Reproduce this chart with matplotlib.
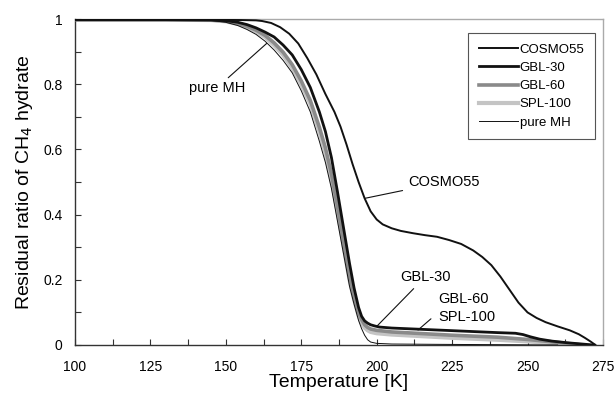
import matplotlib
matplotlib.use("Agg")
import matplotlib.pyplot as plt
from matplotlib.ticker import MultipleLocator, FuncFormatter

plt.rcParams['font.family'] = ['Liberation Sans', 'DejaVu Sans']

# ---- data ----
cosmo_T = [100, 120, 140, 155, 160, 162, 165, 168, 171, 174, 177, 180, 183, 186, 188, 190, 192,
           194, 196, 198, 200, 202, 205, 208, 212, 216, 220, 224, 228, 232, 235, 238, 241, 244,
           247, 250, 253, 256, 260, 264, 267, 269, 271, 272.5]
cosmo_r = [0.998, 0.998, 0.998, 0.997, 0.996, 0.994, 0.988, 0.975, 0.955, 0.925, 0.88, 0.83,
           0.77, 0.715, 0.67, 0.615, 0.555, 0.5, 0.45, 0.41, 0.385, 0.37, 0.358, 0.35, 0.343,
           0.337, 0.332, 0.322, 0.31, 0.29, 0.27, 0.245, 0.21, 0.17, 0.13, 0.10, 0.083, 0.07,
           0.057, 0.045, 0.033, 0.022, 0.01, 0.0]

gbl30_T = [100, 130, 145, 150, 154, 157, 160, 163, 166, 169, 172, 175, 178, 181, 183, 185, 187,
           189, 191, 192.5, 194, 195, 196, 197, 198, 199.5, 201, 205, 210, 220, 230, 240, 246,
           248.5, 251, 254, 258, 263, 268, 272]
gbl30_r = [0.998, 0.998, 0.997, 0.995, 0.99, 0.983, 0.973, 0.96, 0.945, 0.92, 0.89, 0.845,
           0.79, 0.715, 0.655, 0.575, 0.47, 0.36, 0.25, 0.175, 0.115, 0.088, 0.074, 0.067,
           0.062, 0.058, 0.055, 0.052, 0.05, 0.046, 0.042, 0.038, 0.036, 0.032, 0.025, 0.018,
           0.012, 0.007, 0.003, 0.0]

gbl60_T = [100, 130, 145, 150, 154, 157, 160, 163, 166, 169, 172, 175, 178, 181, 183, 185, 187,
           189, 191, 192.5, 194, 195, 196, 197, 198, 200, 205, 215, 225, 240, 250, 258, 264, 268]
gbl60_r = [0.998, 0.998, 0.997, 0.994, 0.987, 0.978, 0.966, 0.95, 0.927, 0.898, 0.86, 0.81,
           0.75, 0.668, 0.605, 0.525, 0.425, 0.32, 0.215, 0.152, 0.1, 0.078, 0.062, 0.054,
           0.049, 0.045, 0.04, 0.035, 0.03, 0.024, 0.017, 0.01, 0.004, 0.0]

spl100_T = [100, 130, 145, 150, 154, 157, 160, 163, 166, 169, 172, 175, 178, 181, 183, 185, 187,
            189, 191, 192.5, 194, 195, 196, 197, 198, 200, 205, 215, 225, 240, 250, 258, 264, 268]
spl100_r = [0.998, 0.998, 0.997, 0.993, 0.985, 0.975, 0.962, 0.945, 0.92, 0.89, 0.85, 0.8, 0.74,
            0.655, 0.59, 0.51, 0.41, 0.305, 0.2, 0.14, 0.09, 0.068, 0.053, 0.045, 0.04, 0.036,
            0.032, 0.027, 0.022, 0.016, 0.011, 0.006, 0.002, 0.0]

pure_T = [100, 130, 145, 150, 154, 157, 160, 163, 166, 169, 172, 175, 178, 181, 183, 185, 187,
          189, 191, 192.5, 194, 195, 196, 197, 198, 200, 205, 220, 240, 260]
pure_r = [0.998, 0.998, 0.996, 0.99, 0.98, 0.968, 0.953, 0.932, 0.905, 0.873, 0.835, 0.78,
          0.715, 0.625, 0.56, 0.48, 0.38, 0.28, 0.18, 0.125, 0.075, 0.05, 0.03, 0.016, 0.009,
          0.005, 0.003, 0.002, 0.001, 0.0]

x_ticks = [100, 125, 150, 175, 200, 225, 250, 275]
y_ticks = [0, 0.2, 0.4, 0.6, 0.8, 1.0]

fig = plt.figure(figsize=(6.16, 3.97), dpi=100)
ax = fig.add_axes([0.1218, 0.131, 0.857, 0.821])

ax.plot(spl100_T, spl100_r, color='#c4c4c4', lw=3.0, label='SPL-100', zorder=2)
ax.plot(gbl60_T, gbl60_r, color='#8a8a8a', lw=2.6, label='GBL-60', zorder=3)
ax.plot(gbl30_T, gbl30_r, color='#111111', lw=2.0, label='GBL-30', zorder=4)
ax.plot(cosmo_T, cosmo_r, color='#111111', lw=1.4, label='COSMO55', zorder=5)
ax.plot(pure_T, pure_r, color='#111111', lw=0.7, label='pure MH', zorder=6)

ax.set_xlim(100, 275)
ax.set_ylim(0, 1)
ax.set_xticks(x_ticks)
ax.set_yticks(y_ticks)
ax.xaxis.set_minor_locator(MultipleLocator(12.5))
ax.yaxis.set_minor_locator(MultipleLocator(0.1))
ax.yaxis.set_major_formatter(FuncFormatter(lambda v, p: f"{v:g}"))
ax.tick_params(which='both', direction='in', labelsize=10, color='#333333', width=0.8)
ax.tick_params(which='major', length=4)
ax.tick_params(which='minor', length=4)
ax.tick_params(axis='x', pad=11)
ax.tick_params(axis='y', pad=9)

for s in ['left', 'bottom']:
    ax.spines[s].set_color('#333333')
    ax.spines[s].set_linewidth(1.0)
for s in ['top', 'right']:
    ax.spines[s].set_color('#aaaaaa')
    ax.spines[s].set_linewidth(1.0)

ax.set_xlabel('Temperature [K]', fontsize=14, labelpad=0)
ax.set_ylabel('Residual ratio of CH$_4$ hydrate', fontsize=14, labelpad=6)

# annotations
fs = 10.5
ax.annotate('pure MH', xy=(163.5, 0.925), xytext=(156.5, 0.79), fontsize=fs,
            ha='right', va='center',
            arrowprops=dict(arrowstyle='-', color='#111111', lw=0.8, shrinkA=0, shrinkB=0))
ax.annotate('COSMO55', xy=(196.1, 0.45), xytext=(210.4, 0.50), fontsize=fs,
            ha='left', va='center',
            arrowprops=dict(arrowstyle='-', color='#111111', lw=0.8, shrinkA=2, shrinkB=0))
ax.annotate('GBL-30', xy=(200.1, 0.058), xytext=(207.7, 0.209), fontsize=fs,
            ha='left', va='center',
            arrowprops=dict(arrowstyle='-', color='#111111', lw=0.8, shrinkA=2, shrinkB=0))
ax.text(220.3, 0.141, 'GBL-60', fontsize=fs, ha='left', va='center')
ax.annotate('SPL-100', xy=(213.7, 0.046), xytext=(220.3, 0.086), fontsize=fs,
            ha='left', va='center',
            arrowprops=dict(arrowstyle='-', color='#111111', lw=0.8, shrinkA=4, shrinkB=0,
                            relpos=(0, 0.8)))

handles, labels = ax.get_legend_handles_labels()
order = ['COSMO55', 'GBL-30', 'GBL-60', 'SPL-100', 'pure MH']
hmap = dict(zip(labels, handles))
leg = ax.legend([hmap[k] for k in order], order, loc='upper right',
                bbox_to_anchor=(0.985, 0.957), fontsize=9.5, frameon=True, fancybox=False,
                edgecolor='#555555', framealpha=1, handlelength=3.0, handletextpad=0.1,
                labelspacing=0.45, borderpad=0.8, borderaxespad=0)
leg.get_frame().set_linewidth(0.8)

fig.savefig('out.png', dpi=100)
